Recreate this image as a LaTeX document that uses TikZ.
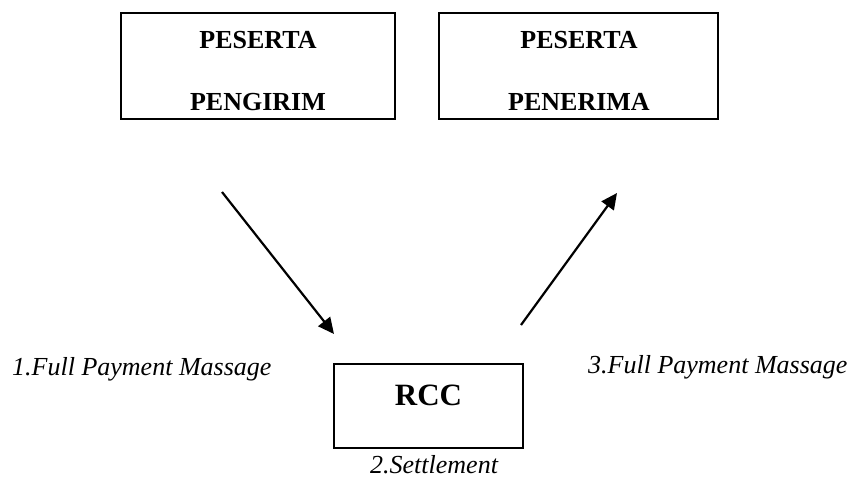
\documentclass[tikz,border=0pt]{standalone}
\usepackage{fontspec}
\setmainfont{Liberation Serif}
\usetikzlibrary{arrows.meta}
\begin{document}
\begin{tikzpicture}[x=1pt,y=-1pt,
  boxstyle/.style={draw=black,line width=1.4pt},
  titletext/.style={font=\bfseries\fontsize{26}{28}\selectfont,anchor=base,inner sep=0pt},
  labeltext/.style={font=\itshape\fontsize{26}{28}\selectfont,anchor=base west,inner sep=0pt},
  flow/.style={line width=2.2pt,-{Triangle[length=16pt,width=15pt]}}]
\useasboundingbox[fill=white] (0,0) rectangle (855,480);
% boxes
\draw[boxstyle] (121,13) rectangle (395,119);
\draw[boxstyle] (439,13) rectangle (718,119);
\draw[boxstyle] (334,364) rectangle (523,448);
% texts
\node[titletext] (p1a) at (258,48) {PESERTA};
\node[titletext] (p1b) at (258,110) {PENGIRIM};
\node[titletext] (p2a) at (579,48) {PESERTA};
\node[titletext] (p2b) at (579,110) {PENERIMA};
\node[titletext,font=\bfseries\fontsize{31}{33}\selectfont] (rcc) at (428.5,405) {RCC};
\node[labeltext] (l1) at (12,375) {1.Full Payment Massage};
\node[labeltext] (l3) at (588,373) {3.Full Payment Massage};
\node[labeltext] (l2) at (370,473) {2.Settlement};
% arrows
\coordinate (a1s) at (222,192);
\coordinate (a1e) at (334,334);
\coordinate (a2s) at (521,325);
\coordinate (a2e) at (617,193);
\draw[flow] (a1s) -- (a1e);
\draw[flow] (a2s) -- (a2e);
\end{tikzpicture}
\end{document}
